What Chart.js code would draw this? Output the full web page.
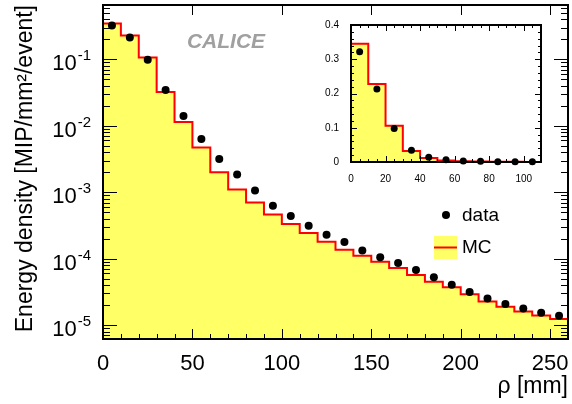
<!DOCTYPE html>
<html>
<head>
<meta charset="utf-8">
<script src="https://cdn.jsdelivr.net/npm/chart.js@4.4.1/dist/chart.umd.min.js"></script>
<style>
  body { margin: 0; background: #fff; }
  #wrap { position: relative; width: 572px; height: 404px; }
  #mainChart { position: absolute; left: 0; top: 0; }
  #insetChart { position: absolute; left: 320px; top: 10px; }
</style>
</head>
<body>
<div id="wrap">
  <canvas id="mainChart" width="572" height="404"></canvas>
  <canvas id="insetChart" width="230" height="175"></canvas>
</div>
<script>
// bin centres in mm (10 mm bins)
var rhoCenters = [5, 15, 25, 35, 45, 55, 65, 75, 85, 95, 105, 115, 125,
                  135, 145, 155, 165, 175, 185, 195, 205, 215, 225, 235, 245, 255];
var dataValues = [0.322, 0.213, 0.098, 0.0344, 0.0140, 0.0063, 0.00316, 0.00185, 0.00106,
                  6.27e-4, 4.39e-4, 3.13e-4, 2.30e-4, 1.78e-4, 1.33e-4, 1.05e-4, 8.6e-5,
                  6.76e-5, 5.24e-5, 4.07e-5, 3.16e-5, 2.53e-5, 2.08e-5, 1.79e-5, 1.54e-5, 1.39e-5];
var mcValues = [0.345, 0.228, 0.106, 0.0321, 0.0114, 0.00472, 0.00199, 0.00110, 7.03e-4,
                4.64e-4, 3.32e-4, 2.43e-4, 1.80e-4, 1.36e-4, 1.11e-4, 9.0e-5, 7.24e-5,
                5.69e-5, 4.51e-5, 3.71e-5, 2.91e-5, 2.28e-5, 1.90e-5, 1.61e-5, 1.40e-5, 1.24e-5];
var binHalf = 5;
var yDecades = [1e-5, 1e-4, 1e-3, 1e-2, 1e-1];
var yExponents = ['-5', '-4', '-3', '-2', '-1'];
var xTickValues = [0, 50, 100, 150, 200, 250];
var insetXTicks = [0, 20, 40, 60, 80, 100];
var insetYTicks = [0, 0.1, 0.2, 0.3, 0.4];

var FONT = '"Liberation Sans", Arial, sans-serif';
Chart.defaults.font.family = FONT;
Chart.defaults.color = '#000';

function histPoints(xMax, floor) {
  var pts = [{x: rhoCenters[0] - binHalf, y: floor}];
  var last = 0;
  for (var i = 0; i < rhoCenters.length; i++) {
    if (rhoCenters[i] - binHalf >= xMax) break;
    pts.push({x: rhoCenters[i] - binHalf, y: mcValues[i]});
    last = i;
  }
  pts.push({x: Math.min(rhoCenters[last] + binHalf, xMax), y: mcValues[last]});
  return pts;
}

function dataPoints(xMax) {
  var pts = [];
  for (var i = 0; i < rhoCenters.length; i++) {
    if (rhoCenters[i] < xMax) pts.push({x: rhoCenters[i], y: dataValues[i]});
  }
  return pts;
}

function frameAndTicks(spec) {
  return {
    id: 'frameAndTicks',
    afterDatasetsDraw: function(chart) {
      var ctx = chart.ctx, a = chart.chartArea;
      var xs = chart.scales.x, ys = chart.scales.y;
      ctx.save();
      ctx.strokeStyle = '#000';
      ctx.lineWidth = 1;
      ctx.beginPath();
      spec.xTicks.forEach(function(t) {
        var px = Math.round(xs.getPixelForValue(t.v)) + 0.5;
        ctx.moveTo(px, a.bottom); ctx.lineTo(px, a.bottom - t.len);
        if (t.top) { ctx.moveTo(px, a.top); ctx.lineTo(px, a.top + t.top); }
      });
      spec.yTicks.forEach(function(t) {
        var py = Math.round(ys.getPixelForValue(t.v)) + 0.5;
        ctx.moveTo(a.left, py); ctx.lineTo(a.left + t.len, py);
        ctx.moveTo(a.right, py); ctx.lineTo(a.right - t.len, py);
      });
      ctx.stroke();
      ctx.lineWidth = spec.frame;
      ctx.strokeRect(a.left, a.top, a.right - a.left, a.bottom - a.top);
      ctx.restore();
    }
  };
}

var mainXTicks = [];
for (var v = 0; v <= 260; v += 10) {
  mainXTicks.push({v: v, len: v % 50 === 0 ? 10 : 5, top: v % 50 === 0 ? 10 : 0});
}
var mainYTicks = [];
for (var e = -6; e <= -1; e++) {
  for (var k = 1; k <= 9; k++) {
    var val = k * Math.pow(10, e);
    if (val >= 6.2e-6 && val <= 0.655) mainYTicks.push({v: val, len: k === 1 ? 14 : 7});
  }
}

// log-axis labels as 10 with a raised exponent
var powerLabels = {
  id: 'powerLabels',
  afterDraw: function(chart) {
    var ctx = chart.ctx, ys = chart.scales.y;
    var right = chart.chartArea.left - 12;
    ctx.save();
    ctx.fillStyle = '#000';
    ctx.textAlign = 'right';
    ctx.textBaseline = 'alphabetic';
    ys.ticks.forEach(function(t) {
      var i = yDecades.indexOf(t.value);
      if (i < 0) return;
      var py = ys.getPixelForValue(t.value);
      ctx.font = '15px ' + FONT;
      var ew = ctx.measureText(yExponents[i]).width;
      ctx.fillText(yExponents[i], right, py + 1);
      ctx.font = '22px ' + FONT;
      ctx.fillText('10', right - ew - 1, py + 11);
    });
    ctx.restore();
  }
};

var overlay = {
  id: 'overlay',
  afterDraw: function(chart) {
    var ctx = chart.ctx;
    var ds = chart.data.datasets;
    ctx.save();
    ctx.font = 'italic bold 21px ' + FONT;
    ctx.fillStyle = '#a0a0a0';
    ctx.textAlign = 'center';
    ctx.textBaseline = 'middle';
    ctx.fillText('CALICE', 226, 42);

    // legend
    ctx.fillStyle = '#000';
    ctx.beginPath();
    ctx.arc(446, 215, 4, 0, Math.PI * 2);
    ctx.fill();
    ctx.fillStyle = ds[1].backgroundColor;
    ctx.fillRect(434, 236, 23, 23);
    ctx.strokeStyle = ds[1].borderColor;
    ctx.lineWidth = 2;
    ctx.beginPath();
    ctx.moveTo(434, 247.5); ctx.lineTo(457, 247.5);
    ctx.stroke();
    ctx.fillStyle = '#000';
    ctx.font = '19px ' + FONT;
    ctx.textAlign = 'left';
    ctx.fillText(ds[0].label, 462, 216);
    ctx.fillText(ds[1].label, 462, 248);
    ctx.restore();
  }
};

new Chart(document.getElementById('mainChart'), {
  type: 'line',
  data: {
    datasets: [
      {
        label: 'data',
        data: dataPoints(1000),
        showLine: false,
        pointRadius: 4,
        pointBackgroundColor: '#000',
        pointBorderWidth: 0,
        borderColor: '#000'
      },
      {
        label: 'MC',
        data: histPoints(260, 1e-7),
        stepped: 'before',
        borderColor: '#ff0000',
        borderWidth: 2,
        backgroundColor: '#ffff66',
        fill: 'start',
        pointRadius: 0
      }
    ]
  },
  options: {
    responsive: false,
    animation: false,
    devicePixelRatio: 1,
    layout: { padding: { left: 0, top: 5, right: 4, bottom: 0 } },
    plugins: { legend: { display: false }, tooltip: { enabled: false } },
    scales: {
      x: {
        type: 'linear',
        min: 0,
        max: 260,
        grid: { display: false },
        border: { display: false },
        ticks: { font: { size: 22 }, padding: 4, maxRotation: 0 },
        afterBuildTicks: function(scale) {
          scale.ticks = xTickValues.map(function(t) { return {value: t}; });
        },
        afterFit: function(scale) {
          scale.height = 65;
          scale.paddingLeft = 0;
          scale.paddingRight = 0;
        },
        title: { display: true, text: '\u03C1 [mm]', align: 'end', font: { size: 23 }, padding: { top: 0, bottom: 4 } }
      },
      y: {
        type: 'logarithmic',
        min: 6.2e-6,
        max: 0.655,
        grid: { display: false },
        border: { display: false },
        ticks: { display: false },
        afterBuildTicks: function(scale) {
          scale.ticks = yDecades.map(function(t) { return {value: t}; });
        },
        afterFit: function(scale) {
          scale.width = 103;
          scale.paddingTop = 0;
          scale.paddingBottom = 0;
        },
        title: { display: true, text: 'Energy density [MIP/mm\u00B2/event]', align: 'end', font: { size: 23 }, padding: { top: 12, bottom: 0 } }
      }
    }
  },
  plugins: [frameAndTicks({xTicks: mainXTicks, yTicks: mainYTicks, frame: 2}), powerLabels, overlay]
});

// inset, linear scale 0-110 mm
var insetXMarks = [];
for (var ix = 0; ix <= 110; ix += 5) insetXMarks.push({v: ix, len: ix % 20 === 0 ? 6 : 3, top: ix % 20 === 0 ? 6 : 3});
var insetYMarks = [];
for (var iy = 0; iy <= 20; iy++) insetYMarks.push({v: iy * 0.02, len: iy % 5 === 0 ? 6 : 3});

new Chart(document.getElementById('insetChart'), {
  type: 'line',
  data: {
    datasets: [
      {
        label: 'data',
        data: dataPoints(110),
        showLine: false,
        pointRadius: 3.5,
        pointBackgroundColor: '#000',
        pointBorderWidth: 0,
        borderColor: '#000',
        clip: false
      },
      {
        label: 'MC',
        data: histPoints(110, 0),
        stepped: 'before',
        borderColor: '#ff0000',
        borderWidth: 2,
        backgroundColor: '#ffff66',
        fill: 'start',
        pointRadius: 0
      }
    ]
  },
  options: {
    responsive: false,
    animation: false,
    devicePixelRatio: 1,
    layout: { padding: { left: 0, top: 15, right: 9, bottom: 0 } },
    plugins: { legend: { display: false }, tooltip: { enabled: false } },
    scales: {
      x: {
        type: 'linear',
        min: 0,
        max: 110,
        grid: { display: false },
        border: { display: false },
        ticks: { font: { size: 10 }, padding: 3, maxRotation: 0 },
        afterBuildTicks: function(scale) {
          scale.ticks = insetXTicks.map(function(t) { return {value: t}; });
        },
        afterFit: function(scale) {
          scale.height = 23;
          scale.paddingLeft = 0;
          scale.paddingRight = 0;
        }
      },
      y: {
        type: 'linear',
        min: 0,
        max: 0.4,
        grid: { display: false },
        border: { display: false },
        ticks: {
          font: { size: 10 },
          padding: 4,
          callback: function(value) { return value === 0 ? '0' : value.toFixed(1); }
        },
        afterBuildTicks: function(scale) {
          scale.ticks = insetYTicks.map(function(t) { return {value: t}; });
        },
        afterFit: function(scale) {
          scale.width = 31;
          scale.paddingTop = 0;
          scale.paddingBottom = 0;
        }
      }
    }
  },
  plugins: [frameAndTicks({xTicks: insetXMarks, yTicks: insetYMarks, frame: 2})]
});
</script>
</body>
</html>
